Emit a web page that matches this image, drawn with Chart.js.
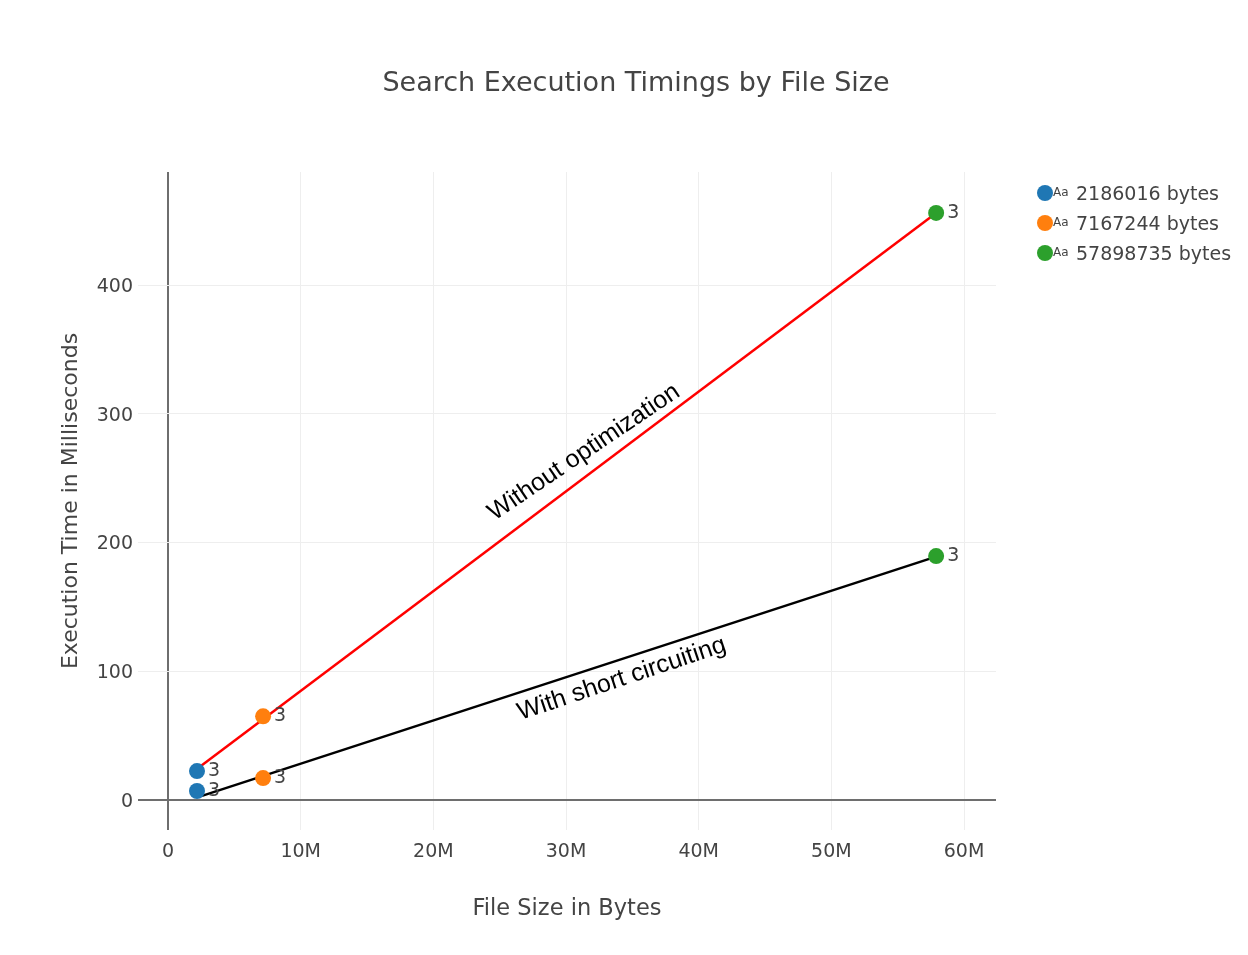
<!DOCTYPE html>
<html lang="en">
<head>
    <meta charset="UTF-8">
    <title>Search Execution Timings by File Size</title>
    <style>
        body {
            margin: 0;
            padding: 0;
            background: #ffffff;
        }

        #chart {
            display: block;
        }
    </style>
</head>

<body>
    <canvas id="chart" width="1248" height="955"></canvas>

    <script src="https://cdn.jsdelivr.net/npm/chart.js"></script>

    <script>
        // file sizes (bytes), one marker colour per file
        const fileSizes = [2186016, 7167244, 57898735];
        const fileLabels = ['2186016 bytes', '7167244 bytes', '57898735 bytes'];
        const fileColors = ['#1f77b4', '#ff7f0e', '#2ca02c'];

        // execution times in ms
        const withoutOptimization = [22.5, 65, 456];
        const withShortCircuit = [7, 17, 189.5];
        const pointText = ['3', '3', '3'];

        // the two drawn lines (they don't sit exactly on the markers)
        const redLineX = [2300000, 57898735];
        const redLineY = [25, 456];
        const blackLineX = [2500000, 57898735];
        const blackLineY = [3, 189];

        // text along the lines: [text, x, y, angle in degrees]
        const lineNotes = [
            ['Without optimization', 31360000, 270, -34],
            ['With short circuiting', 34200000, 94, -18.5]
        ];

        const xTicks = [0, 10000000, 20000000, 30000000, 40000000, 50000000, 60000000];
        const yTicks = [0, 100, 200, 300, 400];

        const FONT = "'DejaVu Sans', Verdana, sans-serif";
        const GREY = '#444';
        const ZERO = '#6e6e6e';

        const pairs = (xs, ys) => xs.map((x, i) => ({ x: x, y: ys[i] }));

        const datasets = [
            {
                label: 'without',
                type: 'line',
                data: pairs(redLineX, redLineY),
                borderColor: '#ff0000',
                borderWidth: 2.5,
                pointRadius: 0,
                fill: false,
                order: 2
            },
            {
                label: 'short',
                type: 'line',
                data: pairs(blackLineX, blackLineY),
                borderColor: '#000000',
                borderWidth: 2.5,
                pointRadius: 0,
                fill: false,
                order: 2
            }
        ];

        fileSizes.forEach((size, i) => {
            datasets.push({
                label: fileLabels[i],
                type: 'scatter',
                data: [
                    { x: size, y: withoutOptimization[i] },
                    { x: size, y: withShortCircuit[i] }
                ],
                backgroundColor: fileColors[i],
                borderWidth: 0,
                pointRadius: 8,
                order: 1,
                isMarker: true
            });
        });

        const decorations = {
            id: 'decorations',
            afterDatasetsDraw(chart) {
                const ctx = chart.ctx;
                const xs = chart.scales.x;
                const ys = chart.scales.y;

                // "3" next to every marker
                ctx.save();
                ctx.font = '19px ' + FONT;
                ctx.fillStyle = GREY;
                ctx.textAlign = 'left';
                ctx.textBaseline = 'middle';
                chart.data.datasets.forEach((ds, di) => {
                    if (!ds.isMarker) return;
                    chart.getDatasetMeta(di).data.forEach(pt => {
                        ctx.fillText(pointText[di - 2], pt.x + 11, pt.y);
                    });
                });
                ctx.restore();

                // notes along the lines
                ctx.save();
                ctx.font = "25px 'Liberation Sans', Arial, sans-serif";
                ctx.fillStyle = '#000';
                ctx.textAlign = 'center';
                ctx.textBaseline = 'middle';
                lineNotes.forEach(n => {
                    ctx.save();
                    ctx.translate(xs.getPixelForValue(n[1]), ys.getPixelForValue(n[2]));
                    ctx.rotate(n[3] * Math.PI / 180);
                    ctx.fillText(n[0], 0, 0);
                    ctx.restore();
                });
                ctx.restore();
            },
            afterDraw(chart) {
                const ctx = chart.ctx;

                // title
                ctx.save();
                ctx.font = '27px ' + FONT;
                ctx.fillStyle = GREY;
                ctx.textAlign = 'center';
                ctx.textBaseline = 'middle';
                ctx.fillText('Search Execution Timings by File Size', 636, 84);
                ctx.restore();

                // legend on the right
                ctx.save();
                fileLabels.forEach((label, i) => {
                    const cy = 193 + i * 30;
                    ctx.beginPath();
                    ctx.arc(1045, cy, 8, 0, Math.PI * 2);
                    ctx.fillStyle = fileColors[i];
                    ctx.fill();
                    ctx.fillStyle = GREY;
                    ctx.textAlign = 'left';
                    ctx.textBaseline = 'alphabetic';
                    ctx.font = '12px ' + FONT;
                    ctx.fillText('Aa', 1053, cy + 3);
                    ctx.font = '19px ' + FONT;
                    ctx.textBaseline = 'middle';
                    ctx.fillText(label, 1076, cy + 2);
                });
                ctx.restore();
            }
        };

        const gridColor = c => c.tick && c.tick.value === 0 ? ZERO : '#eeeeee';
        const gridWidth = c => c.tick && c.tick.value === 0 ? 2 : 1;

        new Chart(document.getElementById('chart'), {
            data: { datasets: datasets },
            options: {
                responsive: false,
                animation: false,
                devicePixelRatio: 1,
                layout: { padding: { top: 172, right: 252, left: 0, bottom: 0 } },
                plugins: {
                    legend: { display: false },
                    tooltip: { enabled: false },
                    title: { display: false }
                },
                scales: {
                    x: {
                        type: 'linear',
                        min: -2261000,
                        max: 62410000,
                        afterFit: s => { s.height = 125; },
                        afterBuildTicks: s => { s.ticks = xTicks.map(v => ({ value: v })); },
                        border: { display: false },
                        grid: { drawTicks: false, color: gridColor, lineWidth: gridWidth },
                        ticks: {
                            padding: 11,
                            color: GREY,
                            font: { family: FONT, size: 19 },
                            maxRotation: 0,
                            autoSkip: false,
                            callback: v => v === 0 ? '0' : (v / 1000000) + 'M'
                        },
                        title: {
                            display: true,
                            text: 'File Size in Bytes',
                            color: GREY,
                            font: { family: FONT, size: 22.5 },
                            padding: { top: 0, bottom: 32 }
                        }
                    },
                    y: {
                        type: 'linear',
                        min: -23.3,
                        max: 487.8,
                        afterFit: s => { s.width = 138; },
                        afterBuildTicks: s => { s.ticks = yTicks.map(v => ({ value: v })); },
                        border: { display: false },
                        grid: { drawTicks: false, color: gridColor, lineWidth: gridWidth },
                        ticks: {
                            padding: 5,
                            labelOffset: 2,
                            color: GREY,
                            autoSkip: false,
                            font: { family: FONT, size: 19 }
                        },
                        title: {
                            display: true,
                            text: 'Execution Time in Milliseconds',
                            color: GREY,
                            font: { family: FONT, size: 22 },
                            padding: { top: 58, bottom: 0 }
                        }
                    }
                }
            },
            plugins: [decorations]
        });
    </script>
</body>
</html>
